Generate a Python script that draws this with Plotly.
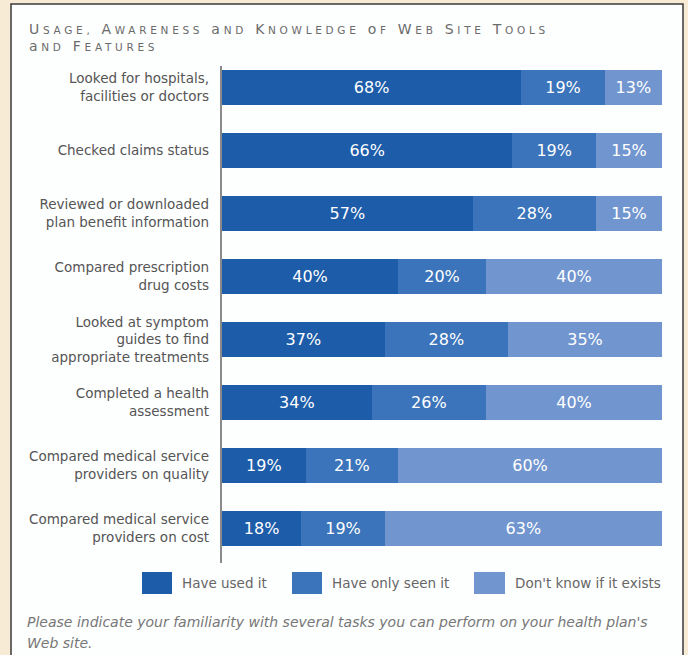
import plotly.graph_objects as go

# Survey data: share of respondents per web-site tool
tools = [
    "Looked for hospitals,<br>facilities or doctors",
    "Checked claims status",
    "Reviewed or downloaded<br>plan benefit information",
    "Compared prescription<br>drug costs",
    "Looked at symptom<br>guides to find<br>appropriate treatments",
    "Completed a health<br>assessment",
    "Compared medical service<br>providers on quality",
    "Compared medical service<br>providers on cost",
]
have_used = [68, 66, 57, 40, 37, 34, 19, 18]
only_seen = [19, 19, 28, 20, 28, 26, 21, 19]
dont_know = [13, 15, 15, 40, 35, 40, 60, 63]

series_names = ["Have used it", "Have only seen it", "Don't know if it exists"]
series_values = [have_used, only_seen, dont_know]
series_colors = ["#1d5ca9", "#3b74ba", "#7196cf"]

W, H = 688, 655
L, R, T, B = 222, 26, 56, 95
PW, PH = W - L - R, H - T - B


def px(x):
    return (x - L) / PW


def py(y):
    return 1 - (y - T) / PH


fig = go.Figure()
for name, vals, col in zip(series_names, series_values, series_colors):
    fig.add_trace(go.Bar(
        y=tools, x=vals, name=name, orientation="h",
        marker=dict(color=col, line=dict(width=0)),
        text=[f"{v}%" for v in vals], textposition="inside",
        insidetextanchor="middle", constraintext="none",
        textfont=dict(family="DejaVu Sans", size=16, color="white"),
        showlegend=False, hoverinfo="skip",
    ))

shapes = [
    # white panel with dark frame
    dict(type="rect", xref="paper", yref="paper", layer="below",
         x0=px(11), x1=px(683), y0=py(700), y1=py(4),
         fillcolor="#fdfefe", line=dict(color="#3a3a3a", width=1.5)),
    # vertical axis rule
    dict(type="line", xref="paper", yref="paper", layer="below",
         x0=px(221), x1=px(221), y0=py(66), y1=py(563),
         line=dict(color="#8a8a8a", width=2)),
]

annotations = []
# legend swatches and labels
legend_boxes = [(142, 172, 180), (292, 322, 330), (474, 505, 513)]
for (x0, x1, tx), name, col in zip(legend_boxes, series_names, series_colors):
    shapes.append(dict(type="rect", xref="paper", yref="paper",
                       x0=px(x0), x1=px(x1), y0=py(594), y1=py(572),
                       fillcolor=col, line=dict(width=0)))
    annotations.append(dict(xref="paper", yref="paper", x=px(tx), y=py(583),
                            text=name, showarrow=False, xanchor="left", yanchor="middle",
                            font=dict(family="DejaVu Sans", size=13.5, color="#666")))

# small-caps heading
def small_caps(s, big=14, small=10.5):
    out = []
    for word in s.split(" "):
        out.append(f"<span style='font-size:{big}px'>{word[0]}</span>"
                   f"<span style='font-size:{small}px'>{word[1:].upper()}</span>")
    return " ".join(out)

title_lines = ["Usage, Awareness and Knowledge of Web Site Tools", "and Features"]
for i, line in enumerate(title_lines):
    annotations.append(dict(xref="paper", yref="paper", x=px(27), y=py(29 + 17 * i),
                            text=f"<span style='letter-spacing:3.7px'>{small_caps(line)}</span>",
                            showarrow=False, xanchor="left", yanchor="middle",
                            font=dict(family="DejaVu Sans", size=14, color="#6b6b6b")))

# footnote, two lines
footnote_lines = [
    "Please indicate your familiarity with several tasks you can perform on your health plan's",
    "Web site.",
]
for i, line in enumerate(footnote_lines):
    annotations.append(dict(
        xref="paper", yref="paper", x=px(25), y=py(622 + 21 * i), xanchor="left",
        yanchor="middle", align="left", showarrow=False, text=f"<i>{line}</i>",
        font=dict(family="DejaVu Sans", size=14, color="#777")))

fig.update_layout(
    width=W, height=H, barmode="stack", bargap=0.43,
    margin=dict(l=L, r=R, t=T, b=B, pad=0),
    paper_bgcolor="#f8ebd6", plot_bgcolor="rgba(0,0,0,0)",
    shapes=shapes, annotations=annotations,
    xaxis=dict(range=[0, 100], visible=False, fixedrange=True),
    yaxis=dict(autorange="reversed", showgrid=False, zeroline=False, showline=False,
               ticks="", ticklabelstandoff=12,
               tickfont=dict(family="DejaVu Sans", size=13.5, color="#555")),
)

fig.write_html("out.html")
